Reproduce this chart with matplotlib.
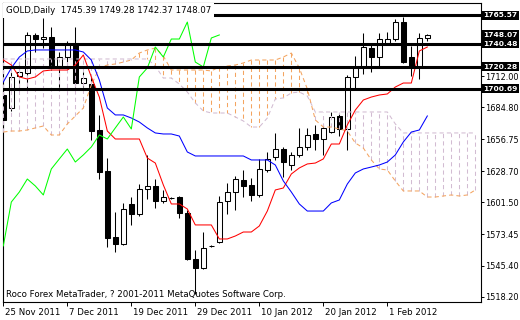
import matplotlib
matplotlib.use('Agg')
import matplotlib.pyplot as plt
from matplotlib.transforms import blended_transform_factory, ScaledTranslation

# GOLD daily, 25 Nov 2011 - 8 Feb 2012, with Ichimoku Kinko Hyo

dates = ['25 Nov 2011', '7 Dec 2011', '19 Dec 2011', '29 Dec 2011',
         '10 Jan 2012', '20 Jan 2012', '1 Feb 2012']
date_bars = [0, 8, 16, 24, 32, 40, 48]

opens = [1695.4, 1684.0, 1712.1, 1714.7, 1748.0, 1744.5, 1746.3, 1720.8, 1728.7, 1741.0,
         1705.9, 1705.0, 1664.7, 1628.7, 1570.8, 1564.7, 1599.8, 1591.0, 1612.9, 1615.6,
         1602.4, 1605.0, 1605.9, 1591.9, 1551.5, 1543.6, 1562.9, 1566.4, 1602.4, 1610.3,
         1620.8, 1616.5, 1607.7, 1629.6, 1641.0, 1648.0, 1634.0, 1642.8, 1649.8, 1661.2,
         1656.8, 1662.9, 1677.0, 1665.6, 1711.2, 1720.0, 1736.6, 1728.7, 1741.0, 1744.5,
         1759.4, 1728.7, 1720.0, 1745.39]
highs = [1698.0, 1715.6, 1724.3, 1750.7, 1749.8, 1762.9, 1755.0, 1733.1, 1742.8, 1755.0,
         1715.6, 1712.1, 1677.9, 1640.1, 1592.8, 1600.7, 1605.9, 1617.3, 1642.8, 1621.7,
         1612.1, 1605.9, 1606.8, 1594.5, 1559.4, 1575.2, 1563.6, 1606.8, 1618.2, 1624.3,
         1629.6, 1622.6, 1639.3, 1645.4, 1662.1, 1649.8, 1645.4, 1666.5, 1666.5, 1669.1,
         1670.0, 1680.5, 1679.6, 1712.9, 1729.6, 1749.8, 1739.3, 1749.8, 1750.7, 1762.1,
         1763.8, 1738.4, 1749.8, 1749.28]
lows = [1667.3, 1681.4, 1702.4, 1699.8, 1733.1, 1736.6, 1717.3, 1701.5, 1720.0, 1702.4,
        1702.4, 1655.9, 1621.7, 1562.1, 1557.7, 1563.8, 1581.4, 1589.3, 1604.2, 1596.3,
        1600.7, 1604.2, 1587.5, 1550.7, 1520.8, 1542.8, 1562.3, 1565.6, 1591.0, 1594.5,
        1605.9, 1602.4, 1605.9, 1627.9, 1638.4, 1623.5, 1629.6, 1641.0, 1647.2, 1647.2,
        1642.8, 1662.1, 1659.4, 1647.2, 1701.5, 1713.8, 1715.6, 1720.0, 1740.1, 1742.8,
        1723.5, 1712.1, 1709.4, 1742.37]
closes = [1673.5, 1711.2, 1715.6, 1748.0, 1744.5, 1746.3, 1720.8, 1728.7, 1741.0, 1705.9,
          1710.3, 1663.8, 1627.9, 1570.0, 1564.7, 1595.4, 1591.0, 1612.9, 1615.6, 1602.4,
          1605.9, 1605.2, 1591.9, 1551.5, 1543.6, 1561.2, 1563.0, 1601.5, 1610.3, 1621.7,
          1615.6, 1607.7, 1630.5, 1639.3, 1648.0, 1636.6, 1642.8, 1649.8, 1660.3, 1656.8,
          1666.5, 1676.1, 1665.6, 1711.2, 1719.1, 1737.5, 1728.7, 1744.5, 1744.5, 1759.4,
          1724.3, 1720.0, 1745.4, 1748.07]

tenkan = [1726.1, 1721.7, 1711.2, 1709.4, 1711.2, 1716.5, 1717.3, 1717.3, 1717.3, 1721.7,
          1730.5, 1711.2, 1693.6, 1663.8, 1656.8, 1656.8, 1656.8, 1656.8, 1640.1, 1635.7,
          1616.5, 1599.8, 1599.8, 1595.4, 1581.4, 1581.4, 1581.4, 1569.1, 1569.1, 1571.7,
          1575.2, 1575.2, 1580.5, 1593.6, 1612.1, 1613.8, 1626.1, 1631.4, 1634.9, 1635.7,
          1639.3, 1652.4, 1652.4, 1669.1, 1682.2, 1691.0, 1693.6, 1695.4, 1696.3, 1702.4,
          1705.9, 1705.9, 1734.0, 1737.5]
kijun = [1706.8, 1719.1, 1728.7, 1734.0, 1734.9, 1734.9, 1734.9, 1734.9, 1734.9, 1734.9,
         1733.1, 1726.1, 1708.6, 1684.0, 1677.9, 1677.9, 1675.2, 1671.7, 1666.5, 1662.1,
         1661.2, 1661.2, 1659.4, 1645.4, 1641.9, 1641.9, 1641.9, 1641.9, 1641.9, 1641.9,
         1641.9, 1638.4, 1638.4, 1638.4, 1634.0, 1620.0, 1610.3, 1599.8, 1593.6, 1593.6,
         1593.6, 1600.7, 1603.3, 1617.3, 1627.0, 1630.5, 1632.2, 1634.0, 1636.6, 1642.8,
         1654.2, 1662.9, 1664.7, 1677.0]
span_a = [1662.9, 1663.8, 1663.8, 1664.7, 1666.5, 1668.2, 1660.3, 1660.3, 1670.0, 1677.0,
          1684.0, 1704.2, 1719.1, 1721.7, 1722.6, 1724.3, 1726.1, 1732.2, 1734.9, 1736.6,
          1729.6, 1717.3, 1717.3, 1717.3, 1717.3, 1717.3, 1716.5, 1720.0, 1720.8, 1721.7,
          1723.5, 1726.1, 1726.1, 1726.1, 1726.1, 1728.7, 1732.2, 1719.1, 1700.7, 1673.5,
          1667.3, 1667.3, 1665.6, 1663.8, 1653.3, 1648.9, 1638.4, 1630.5, 1629.6, 1620.0,
          1611.2, 1611.2, 1611.2, 1605.9, 1605.9, 1606.8, 1607.7, 1606.8, 1607.7, 1612.1]
span_b = [1727.0, 1727.0, 1727.0, 1727.0, 1727.0, 1727.0, 1727.0, 1727.0, 1727.0, 1727.0,
          1727.0, 1727.0, 1727.0, 1727.0, 1727.0, 1727.0, 1727.0, 1727.0, 1727.0, 1720.8,
          1710.3, 1710.3, 1705.0, 1698.0, 1688.4, 1681.4, 1679.6, 1679.6, 1679.6, 1676.1,
          1672.6, 1667.3, 1667.3, 1675.2, 1691.9, 1692.8, 1697.2, 1698.0, 1694.5, 1680.5,
          1680.5, 1680.5, 1680.5, 1680.5, 1680.5, 1680.5, 1680.5, 1680.5, 1680.5, 1670.0,
          1662.1, 1662.1, 1662.1, 1662.1, 1662.1, 1662.1, 1662.1, 1662.1, 1662.1, 1662.1]

levels = [1765.57, 1740.48, 1720.28, 1700.69]
bid = 1748.07
price_ticks = [1712.00, 1684.80, 1656.75, 1628.70, 1601.50, 1573.45, 1545.40, 1518.20]

FS = 6.2
LW = 0.75

fig = plt.figure(figsize=(5.2, 3.2), dpi=100)
ax = fig.add_axes([3 / 520, 18 / 320, 478 / 520, 299 / 320])
ax.set_xlim(-0.04, 59.71)
ax.set_ylim(1513.8, 1776.1)

# candles
for i in range(len(opens)):
    o, h, l, c = opens[i], highs[i], lows[i], closes[i]
    ax.vlines(i, l, h, color='black', lw=LW, zorder=2)
    if abs(c - o) < 0.6:
        ax.hlines(o, i - 0.33, i + 0.33, color='black', lw=LW, zorder=3)
    else:
        ax.bar(i, c - o, bottom=o, width=0.6,
               facecolor='white' if c > o else 'black',
               edgecolor='black', lw=LW, zorder=3)

# kumo cloud as dotted histogram
bars_ext = list(range(len(span_a)))
dash = (0, (4, 3))
for i in range(len(span_a)):
    col = '#f4a460' if span_a[i] >= span_b[i] else '#d2bcd2'
    ax.vlines(i, span_a[i], span_b[i], colors=col, lw=LW, linestyles=dash, zorder=4)
ax.plot(bars_ext, span_b, color='#d2bcd2', lw=LW, ls=dash, zorder=4)
ax.plot(bars_ext, span_a, color='#f4a460', lw=LW, ls=dash, zorder=4)

# tenkan, kijun, chikou
bars = list(range(len(closes)))
ax.plot(bars, tenkan, color='red', lw=LW, zorder=5)
ax.plot(bars, kijun, color='blue', lw=LW, zorder=5)
ax.plot(bars[:len(closes) - 26], closes[26:], color='#00ff00', lw=LW, zorder=5)

# horizontal levels
for v in levels:
    ax.axhline(v, color='black', lw=2.2, zorder=6)

# price scale on the right
ax.yaxis.tick_right()
ax.set_yticks(price_ticks)
ax.set_yticklabels(['%.2f' % v for v in price_ticks])
ax.tick_params(axis='y', direction='out', length=2.5, width=0.7, pad=0.6, labelsize=5.9)

trans = blended_transform_factory(ax.transAxes, ax.transData)
for v in levels + [bid]:
    ax.text(1.005, v, '%.2f' % v, transform=trans, ha='left', va='center',
            color='white', fontsize=5.4, fontweight='bold', clip_on=False,
            bbox=dict(boxstyle='square,pad=0.2', fc='black', ec='none'), zorder=10)

# time scale
ax.set_xticks(date_bars)
ax.set_xticklabels(dates)
ax.tick_params(axis='x', direction='out', length=3, width=0.7, pad=1.5, labelsize=FS)
offset = ScaledTranslation(2 / 100, 0, fig.dpi_scale_trans)
for lbl in ax.get_xticklabels():
    lbl.set_horizontalalignment('left')
    lbl.set_transform(lbl.get_transform() + offset)

for s in ax.spines.values():
    s.set_linewidth(0.8)

ax.text(0.006, 0.975, 'GOLD,Daily  1745.39 1749.28 1742.37 1748.07', transform=ax.transAxes,
        ha='left', va='center', fontsize=FS, color='black', zorder=12,
        bbox=dict(boxstyle='square,pad=0.35', fc='white', ec='none'))
ax.text(0.006, 0.025, 'Roco Forex MetaTrader, ? 2001-2011 MetaQuotes Software Corp.',
        transform=ax.transAxes, ha='left', va='center', fontsize=FS, color='black', zorder=12)

fig.savefig('out.png', dpi=100)
